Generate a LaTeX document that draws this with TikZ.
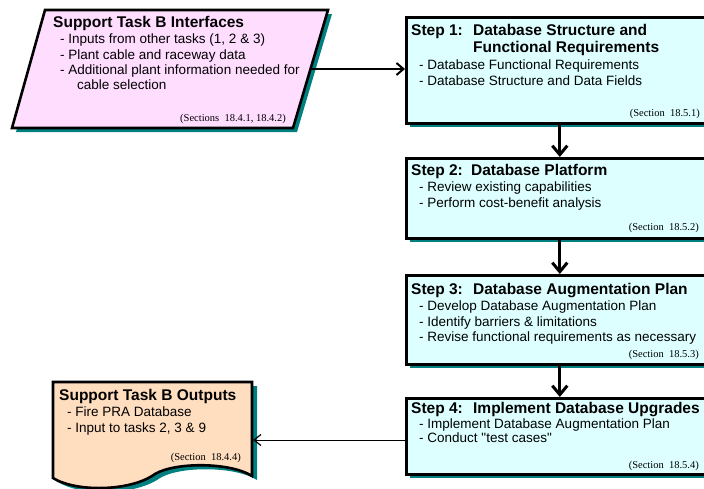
\documentclass[tikz,border=0pt]{standalone}
\usepackage{fontspec}
\setmainfont{Liberation Sans}
\newfontfamily\secfont{Liberation Serif}
\usetikzlibrary{arrows.meta,shadows}

\definecolor{ifacefill}{RGB}{255,221,255}
\definecolor{stepfill}{RGB}{221,255,255}
\definecolor{outfill}{RGB}{255,222,192}
\definecolor{shadowcol}{RGB}{0,128,128}

\tikzset{
  boxline/.style={draw=black, line width=2.6pt, line join=miter},
  stepbox/.style={boxline, fill=stepfill, rectangle, inner sep=0pt, anchor=north west,
    minimum width=307pt,
    drop shadow={shadow xshift=4pt, shadow yshift=-4pt, fill=shadowcol, opacity=1}},
  titletext/.style={font=\fontsize{15.5}{18}\selectfont\bfseries, anchor=base west, inner sep=0pt},
  bodytext/.style={font=\fontsize{13.5}{16}\selectfont, anchor=base west, inner sep=0pt},
  sectext/.style={font=\secfont\fontsize{10.5}{12}\selectfont, anchor=base east, inner sep=0pt},
  steparrow/.style={line width=3pt, -{Straight Barb[length=9pt, width=15pt, line width=3pt]}},
  feedarrow/.style={line width=2pt, -{Straight Barb[length=7pt, width=12pt, line width=2pt]}},
  outarrow/.style={line width=1pt, -{Straight Barb[length=7pt, width=11pt, line width=1.2pt]}},
}
\newcommand{\steplabel}[1]{\makebox[62pt][l]{#1}}

\begin{document}
\begin{tikzpicture}[x=1pt, y=-1pt]
  \useasboundingbox (0,0) rectangle (704,488);
  \clip (0,0) rectangle (704,488);

  % ---- Support Task B Interfaces (parallelogram, input) ----
  \fill[shadowcol] (49,14) -- (332,14) -- (297,132) -- (16,132) -- cycle;
  \draw[boxline, fill=ifacefill] (45,10) -- (328,10) -- (293,128) -- (12,128) -- cycle;
  \coordinate (ifaceout) at (311,69);
  \node[titletext] (ifacetitle) at (53,27) {Support Task B Interfaces};
  \node[bodytext] (iface1) at (60,43) {- Inputs from other tasks (1, 2 \& 3)};
  \node[bodytext] (iface2) at (60,59) {- Plant cable and raceway data};
  \node[bodytext] (iface3) at (60,74.5) {- Additional plant information needed for};
  \node[bodytext] (iface4) at (77,89.5) {cable selection};
  \node[sectext] (ifacesec) at (286,121) {(Sections\ \ 18.4.1, 18.4.2)};

  % ---- Step boxes ----
  \node[stepbox, minimum height=106pt] (s1) at (405,16) {};
  \node[stepbox, minimum height=80pt]  (s2) at (405,157) {};
  \node[stepbox, minimum height=89pt]  (s3) at (405,274) {};
  \node[stepbox, minimum height=76pt]  (s4) at (405,397) {};

  % Step 1
  \node[titletext] (s1t) at (411,35) {\steplabel{Step 1:}Database Structure and};
  \node[titletext] (s1t2) at (473,52.5) {Functional Requirements};
  \node[bodytext] (s1a) at (419,69) {- Database Functional Requirements};
  \node[bodytext] (s1b) at (419,85) {- Database Structure and Data Fields};
  \node[sectext] (s1s) at (700,116) {(Section\ \ 18.5.1)};

  % Step 2
  \node[titletext] (s2t) at (411,175.5) {\makebox[60pt][l]{Step 2:}Database Platform};
  \node[bodytext] (s2a) at (419,191.5) {- Review existing capabilities};
  \node[bodytext] (s2b) at (419,207) {- Perform cost-benefit analysis};
  \node[sectext] (s2s) at (699,230.5) {(Section\ \ 18.5.2)};

  % Step 3
  \node[titletext] (s3t) at (411,294.5) {\steplabel{Step 3:}Database Augmentation Plan};
  \node[bodytext] (s3a) at (419,310.5) {- Develop Database Augmentation Plan};
  \node[bodytext] (s3b) at (419,326) {- Identify barriers \& limitations};
  \node[bodytext] (s3c) at (419,341.5) {- Revise functional requirements as necessary};
  \node[sectext] (s3s) at (699,357.5) {(Section\ \ 18.5.3)};

  % Step 4
  \node[titletext] (s4t) at (411,413.5) {\steplabel{Step 4:}Implement Database Upgrades};
  \node[bodytext] (s4a) at (419,428) {- Implement Database Augmentation Plan};
  \node[bodytext] (s4b) at (419,442) {- Conduct \textquotedbl test cases\textquotedbl};
  \node[sectext] (s4s) at (699,468) {(Section\ \ 18.5.4)};

  % ---- Support Task B Outputs (document shape) ----
  \fill[shadowcol] (58,386) -- (257,386) -- (257,480)
    .. controls (235,466) and (180,466) .. (160,478)
    .. controls (135,496) and (80,496) .. (58,482) -- cycle;
  \draw[boxline, fill=outfill] (53,382) -- (252,382) -- (252,476)
    .. controls (230,462) and (175,462) .. (155,474)
    .. controls (130,492) and (75,492) .. (53,478) -- cycle;
  \coordinate (outin) at (253,440);
  \node[titletext] (outtitle) at (59,400.5) {Support Task B Outputs};
  \node[bodytext] (out1) at (67,416.5) {- Fire PRA Database};
  \node[bodytext] (out2) at (67,432) {- Input to tasks 2, 3 \& 9};
  \node[sectext] (outsec) at (241,460) {(Section\ \ 18.4.4)};

  % ---- Connectors ----
  \draw[feedarrow] (ifaceout) -- (s1.west |- ifaceout);
  \draw[steparrow] (s1.south) -- (s2.north);
  \draw[steparrow] (s2.south) -- (s3.north);
  \draw[steparrow] (s3.south) -- (s4.north);
  \draw[outarrow] (s4.west |- outin) -- (outin);
\end{tikzpicture}
\end{document}
